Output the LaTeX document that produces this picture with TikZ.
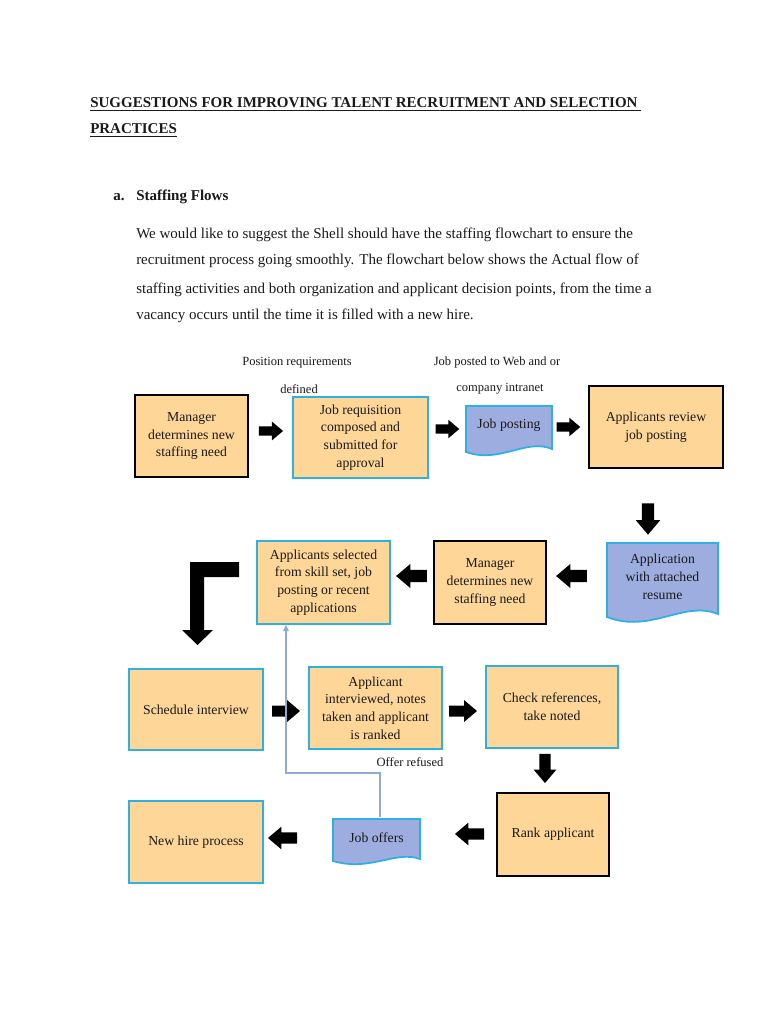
\documentclass[tikz,border=0pt]{standalone}
\usepackage{fontspec}
\setmainfont{Liberation Serif}
\usetikzlibrary{arrows.meta,calc}
\definecolor{orangeF}{HTML}{FED697}
\definecolor{docF}{HTML}{9EADE0}
\definecolor{cyanB}{HTML}{2FB0E2}
\definecolor{lineB}{HTML}{8EAADB}
\definecolor{txt}{HTML}{1A1A1A}
\begin{document}
\begin{tikzpicture}[x=0.8pt,y=-0.8pt,
  box/.style={rectangle, fill=orangeF, align=center, inner sep=0pt, text=txt,
    font=\fontsize{11}{14.2}\selectfont},
  blk/.style={box, draw=black, line width=1.6pt},
  cyn/.style={box, draw=cyanB, line width=1.4pt},
  docshape/.style={fill=docF, draw=cyanB, line width=1.4pt},
  doctext/.style={align=center, inner sep=0pt, text=txt, font=\fontsize{11}{14.2}\selectfont},
  lbl/.style={inner sep=0pt, text=txt, font=\fontsize{10}{11}\selectfont},
  body/.style={anchor=base west, inner sep=0pt, text=txt, font=\fontsize{12}{13}\selectfont},
  head/.style={body, font=\bfseries\fontsize{12}{13}\selectfont},
  conn/.style={lineB, line width=0.9pt, -{Triangle[length=5pt,width=4.5pt]}},
  barrow/.pic={\fill[black] (-14,-5.5) -- (1,-5.5) -- (1,-11) -- (14,0) -- (1,11) -- (1,5.5) -- (-14,5.5) -- cycle;}
]
\useasboundingbox[fill=white] (0,0) rectangle (768,1024);

% heading
\node[head] (h1) at (90,108)
  {\underline{SUGGESTIONS FOR IMPROVING TALENT RECRUITMENT AND SELECTION\ }};
\node[head] (h2) at (90,134) {\underline{PRACTICES}};
\node[head] (ha) at (113,201) {a.};
\node[head] (hs) at (136,201) {Staffing Flows};
\node[body] (p1) at (136,238) {We would like to suggest the Shell should have the staffing flowchart to ensure the};
\node[body] (p2) at (136,265) {recruitment process going smoothly. The flowchart below shows the Actual flow of};
\node[body] (p3) at (136,293) {staffing activities and both organization and applicant decision points, from the time a};
\node[body] (p4) at (136,319) {vacancy occurs until the time it is filled with a new hire.};

% labels
\node[lbl] (l1) at (297,363) {Position requirements};
\node[lbl] (l2) at (299,389) {defined};
\node[lbl] (l3) at (497,362) {Job posted to Web and or};
\node[lbl] (l4) at (500,389) {company intranet};
\node[lbl] (l5) at (410,762) {Offer refused};

% row 1
\node[blk, minimum width=90.4pt, minimum height=65.6pt] (m1) at (191.5,436) {Manager\\determines new\\staffing need};
\node[cyn, minimum width=108pt, minimum height=64.8pt] (jr) at (360.5,437.5) {Job requisition\\composed and\\submitted for\\approval};
\path[docshape] (466,406) -- (552,406) -- (552,449) .. controls (526,438) and (500,464) .. (466,452) -- cycle;
\node[doctext, minimum width=68.8pt, minimum height=34pt] (jp) at (509,425) {Job posting};
\node[blk, minimum width=107.2pt, minimum height=65.6pt] (ar) at (656,427) {Applicants review\\job posting};

% row 2
\path[docshape] (607,543) -- (718,543) -- (718,614) .. controls (684,600) and (650,634) .. (607,617) -- cycle;
\node[doctext, minimum width=88.8pt, minimum height=56pt] (ap) at (662.5,577) {Application\\with attached\\resume};
\node[blk, minimum width=89.6pt, minimum height=66.4pt] (m2) at (490,582.5) {Manager\\determines new\\staffing need};
\node[cyn, minimum width=106.4pt, minimum height=66.4pt] (as) at (323.5,582.5) {Applicants selected\\from skill set, job\\posting or recent\\applications};

% row 3
\node[cyn, minimum width=107.2pt, minimum height=64.8pt] (si) at (196,709.5) {Schedule interview};
\node[cyn, minimum width=106.4pt, minimum height=65.6pt] (ai) at (375.5,708) {Applicant\\interviewed, notes\\taken and applicant\\is ranked};
\node[cyn, minimum width=105.6pt, minimum height=65.6pt] (cr) at (552,707) {Check references,\\take noted};

% row 4
\node[cyn, minimum width=107.2pt, minimum height=65.6pt] (nh) at (196,842) {New hire process};
\path[docshape] (333,819) -- (420,819) -- (420,859) .. controls (396,850) and (370,872) .. (333,861) -- cycle;
\node[doctext, minimum width=69.6pt, minimum height=32pt] (jo) at (376.5,838) {Job offers};
\node[blk, minimum width=89.6pt, minimum height=66.4pt] (ra) at (553,834.5) {Rank applicant};

% block arrows
\pic[scale=0.86] at (271,431) {barrow};
\pic[scale=0.84] at (447.5,429) {barrow};
\pic[scale=0.84] at (568.5,427) {barrow};
\pic[rotate=-90, scale=1.12] at (648,519) {barrow};
\pic[rotate=180, scale=1.1] at (571.5,576) {barrow};
\pic[rotate=180, scale=1.1] at (411.5,576) {barrow};
\pic[scale=1.0] at (286,711) {barrow};
\pic[scale=1.0] at (463,711) {barrow};
\pic[rotate=-90, scale=1.04] at (545,768.5) {barrow};
\pic[rotate=180, scale=1.04] at (282.5,838) {barrow};
\pic[rotate=180, scale=1.04] at (469.5,834) {barrow};

% L-shaped block arrow
\fill[black] (239,562) -- (190,562) -- (190,630) -- (182,630) -- (197.5,645) -- (213,630) -- (204,630) -- (204,577) -- (239,577) -- cycle;

% offer refused connector
\coordinate (bend) at (286,773);
\draw[conn] ([xshift=2.8pt]jo.north) ++(0,-0.5) |- (bend) -- (bend |- as.south);
\end{tikzpicture}
\end{document}
